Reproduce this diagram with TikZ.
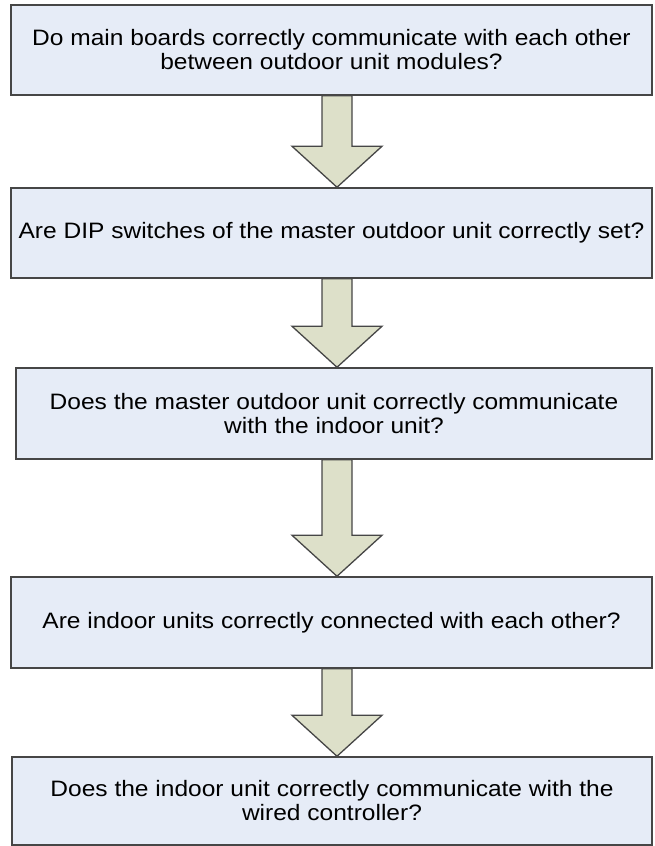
\documentclass[tikz,border=0pt]{standalone}
\usepackage{fontspec}
\setmainfont[FakeStretch=1.1]{Liberation Sans}
\usetikzlibrary{calc}
\definecolor{boxfill}{RGB}{230,236,247}
\definecolor{arrfill}{RGB}{221,224,201}
\definecolor{edge}{RGB}{70,70,70}
\begin{document}
\begin{tikzpicture}[x=1pt,y=-1pt,
  qbox/.style={draw=edge, line width=1.5pt, fill=boxfill, rectangle, inner sep=0pt,
    align=center, font=\fontsize{22.3}{24}\selectfont},
  fatarrow/.style={draw=edge, line width=1.3pt, fill=arrfill, line join=miter}]
\useasboundingbox (0,0) rectangle (654,846);
\coordinate (ax) at (337,0);
\node[qbox, minimum width=641pt, minimum height=90pt] (b1) at (331.5,50)
  {Do main boards correctly communicate with each other\\between outdoor unit modules?};
\node[qbox, minimum width=641pt, minimum height=90pt] (b2) at (331.5,233)
  {Are DIP switches of the master outdoor unit correctly set?};
\node[qbox, minimum width=636pt, minimum height=91pt] (b3) at (334,413.5)
  {Does the master outdoor unit correctly communicate\\with the indoor unit?};
\node[qbox, minimum width=641pt, minimum height=91pt] (b4) at (331.5,622.5)
  {Are indoor units correctly connected with each other?};
\node[qbox, minimum width=640pt, minimum height=88pt] (b5) at (332,801)
  {Does the indoor unit correctly communicate with the\\wired controller?};
\foreach \a/\b in {b1/b2,b2/b3,b3/b4,b4/b5}{
  \draw[fatarrow]
    ($(\a.south -| ax)+(-15,0)$) -- ($(\b.north -| ax)+(-15,-41)$)
    -- ($(\b.north -| ax)+(-45,-41)$) -- (\b.north -| ax)
    -- ($(\b.north -| ax)+(45,-41)$) -- ($(\b.north -| ax)+(15,-41)$)
    -- ($(\a.south -| ax)+(15,0)$) -- cycle;
}
\end{tikzpicture}
\end{document}
